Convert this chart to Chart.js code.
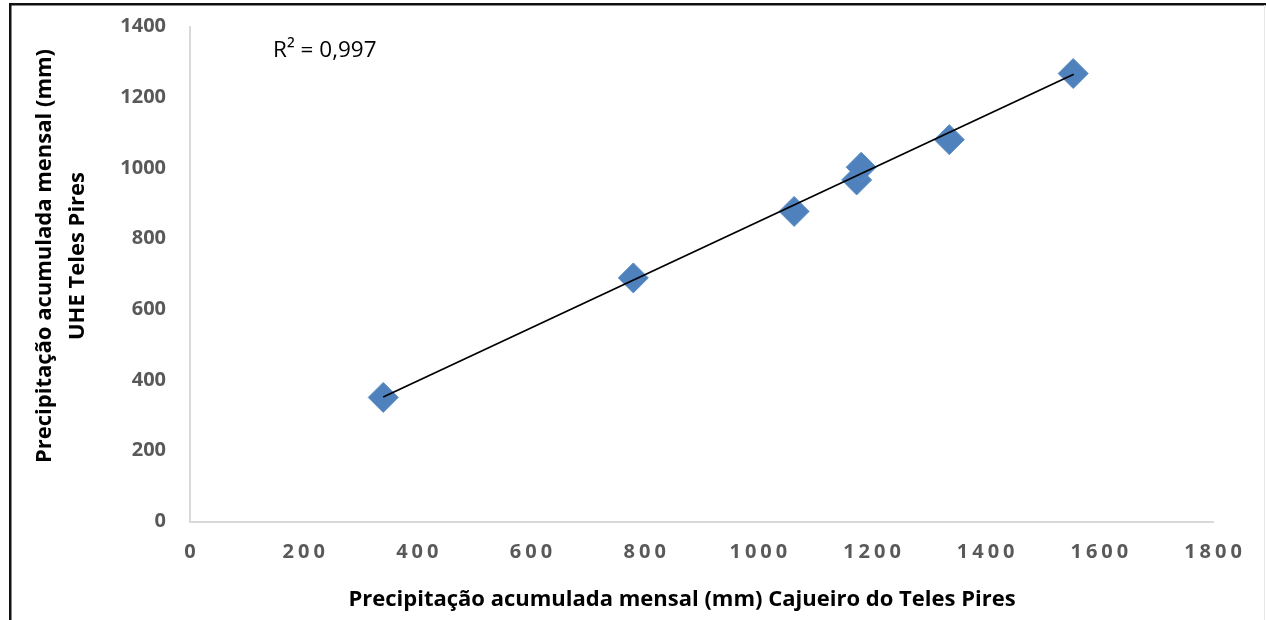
<!DOCTYPE html>
<html>
<head>
<meta charset="utf-8">
<script src="https://cdn.jsdelivr.net/npm/chart.js@4"></script>
<style>
  html, body { margin: 0; padding: 0; background: #fff; }
  #wrap { position: relative; width: 1266px; height: 620px; }
</style>
</head>
<body>
<div id="wrap"><canvas id="chart" width="1266" height="620"></canvas></div>
<script>
// Data
const cajueiro = [340, 780, 1063, 1173, 1181, 1336, 1554]; // x (mm)
const uhe = [351, 689, 877, 966, 1002, 1080, 1267];         // y (mm)

// trend line end points (as drawn in the picture)
const trendX = [340, 1555];
const trendY = [352, 1265];

const xTicks = [0, 200, 400, 600, 800, 1000, 1200, 1400, 1600, 1800];
const yTicks = [0, 200, 400, 600, 800, 1000, 1200, 1400];

const r2Label = 'R² = 0,997';
const xTitle = 'Precipitação acumulada mensal (mm) Cajueiro do Teles Pires';
const yTitle = ['Precipitação acumulada mensal (mm)', 'UHE Teles Pires'];

const FONT = '"Open Sans", Lato, sans-serif';
const tickColor = '#595959';
const axisColor = '#d9d9d9';

// extra text drawn on top of the chart
const extras = {
    id: 'extras',
    afterDraw(chart) {
        const ctx = chart.ctx;
        const xs = chart.scales.x;
        const area = chart.chartArea;
        ctx.save();

        // x tick labels (spaced out like the original)
        ctx.font = 'bold 20px ' + FONT;
        ctx.fillStyle = tickColor;
        ctx.textAlign = 'center';
        ctx.textBaseline = 'middle';
        ctx.letterSpacing = '4px';
        xTicks.forEach(t => {
            ctx.fillText(String(t), xs.getPixelForValue(t) + 2, area.bottom + 31);
        });
        ctx.letterSpacing = '0px';

        // axis titles
        ctx.fillStyle = '#000';
        ctx.font = 'bold 22px ' + FONT;
        ctx.fillText(xTitle, 682, 600);

        ctx.save();
        ctx.translate(45, 256);
        ctx.rotate(-Math.PI / 2);
        ctx.fillText(yTitle[0], 0, 0);
        ctx.fillText(yTitle[1], 0, 33);
        ctx.restore();

        // R² label
        ctx.font = '22.5px ' + FONT;
        ctx.textAlign = 'left';
        ctx.fillText(r2Label, area.left + 83, 51);

        // frame
        ctx.fillStyle = '#111';
        ctx.fillRect(9, 3, 1257, 2.5);
        ctx.fillRect(9, 3, 2.5, 617);
        ctx.fillStyle = '#e6e6e6';
        ctx.fillRect(1264, 5, 1, 615);

        ctx.restore();
    }
};

const ctx = document.getElementById('chart').getContext('2d');
new Chart(ctx, {
    type: 'scatter',
    data: {
        datasets: [{
            type: 'line',
            label: 'trend',
            data: trendX.map((x, i) => ({ x: x, y: trendY[i] })),
            borderColor: '#000',
            borderWidth: 1.8,
            pointRadius: 0,
            fill: false,
            order: 0
        }, {
            label: 'pontos',
            data: cajueiro.map((x, i) => ({ x: x, y: uhe[i] })),
            pointStyle: 'rectRot',
            pointRadius: 15,
            backgroundColor: '#4f81bd',
            borderColor: '#5b8cc6',
            borderWidth: 1,
            order: 1
        }]
    },
    options: {
        responsive: false,
        devicePixelRatio: 1,
        animation: false,
        layout: { autoPadding: false, padding: { left: 0, right: 53, top: 26.5, bottom: 0 } },
        plugins: {
            legend: { display: false },
            tooltip: { enabled: false }
        },
        scales: {
            x: {
                type: 'linear',
                min: 0,
                max: 1800,
                ticks: { stepSize: 200, display: false },
                grid: { display: false, drawTicks: false },
                border: { color: axisColor, width: 2 },
                afterFit: s => { s.height = 98.5; }
            },
            y: {
                min: 0,
                max: 1400,
                afterBuildTicks: s => { s.ticks = yTicks.map(v => ({ value: v })); },
                ticks: {
                    padding: 24,
                    color: tickColor,
                    font: { family: FONT, size: 20, weight: 'bold' },
                    callback: v => String(v)
                },
                grid: { display: false, drawTicks: false },
                border: { color: axisColor, width: 2 },
                afterFit: s => { s.width = 190; s.paddingTop = 0; s.paddingBottom = 0; }
            }
        }
    },
    plugins: [extras]
});
</script>
</body>
</html>
